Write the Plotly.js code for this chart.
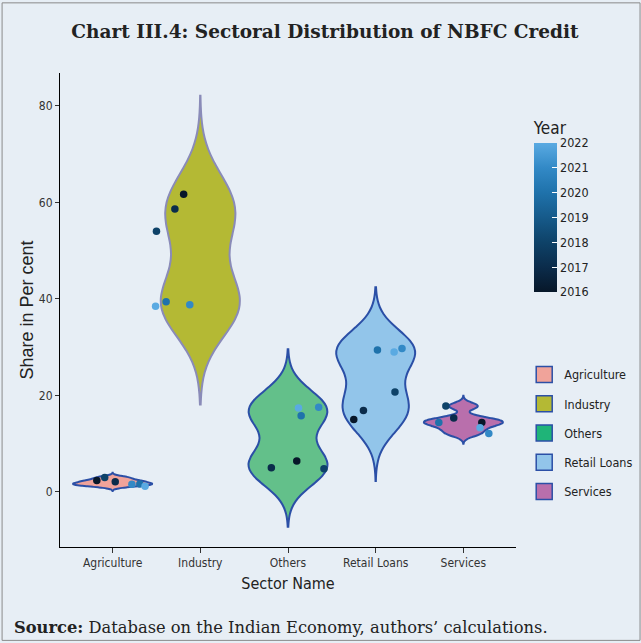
<!DOCTYPE html>
<html>
<head>
<meta charset="utf-8">
<script src="https://cdn.plot.ly/plotly-3.0.1.min.js"></script>
<style>
html,body{margin:0;padding:0;background:#E7EEF5;}
#chart{width:641px;height:643px;}
</style>
</head>
<body>
<div id="chart"></div>
<script>
// ---- Data ----
const sectors = ['Agriculture', 'Industry', 'Others', 'Retail Loans', 'Services'];
const years = [2016, 2017, 2018, 2020, 2021, 2022];
const agriculture = [2.4, 2.1, 3.0, 1.65, 1.6, 1.2];
const industry = [61.7, 58.6, 54.0, 39.4, 38.8, 38.5];
const others = [6.4, 5.0, 4.8, 15.8, 17.55, 17.4];
const retailLoans = [15.0, 16.9, 20.7, 29.4, 29.7, 29.0];
const services = [14.4, 15.3, 17.8, 14.4, 12.1, 13.3];
// horizontal jitter of the points (category units)
const jitterAgriculture = [-0.18, 0.03, -0.09, 0.31, 0.22, 0.37];
const jitterIndustry = [-0.19, -0.29, -0.50, -0.39, -0.12, -0.51];
const jitterOthers = [0.10, -0.19, 0.41, 0.15, 0.35, 0.12];
const jitterRetail = [-0.25, -0.14, 0.22, 0.02, 0.30, 0.21];
const jitterServices = [0.21, -0.11, -0.20, -0.28, 0.29, 0.19];
const yTicks = [0, 20, 40, 60, 80];
const yearTicks = [2016, 2017, 2018, 2019, 2020, 2021, 2022];

const seriesValues = [agriculture, industry, others, retailLoans, services];
const seriesJitter = [jitterAgriculture, jitterIndustry, jitterOthers, jitterRetail, jitterServices];

// ---- Styles ----
const fillColors = ['#F0A39A', '#B4B934', '#63C08A', '#92C5EA', '#B96FAC'];
const legendColors = ['#F0A39A', '#B4B934', '#1FB478', '#92C5EA', '#B96FAC'];
const lineColors = ['#2B4FA6', '#8A8BB8', '#2B4FA6', '#2B4FA6', '#2B4FA6'];
const yearScale = [
  [0, '#071729'], [0.167, '#0b2c4b'], [0.333, '#0e4268'], [0.5, '#165a8a'],
  [0.667, '#1f72ab'], [0.833, '#3289c6'], [1, '#5AAAE2']
];
const narrow = 'DejaVu Sans Condensed, Liberation Sans Narrow, Arial Narrow, sans-serif';

// bandwidth like R's bw.nrd0 (ggplot default)
function quantile7(sorted, p) {
  const h = (sorted.length - 1) * p;
  const lo = Math.floor(h);
  return sorted[lo] + (h - lo) * ((sorted[lo + 1] !== undefined ? sorted[lo + 1] : sorted[lo]) - sorted[lo]);
}
function nrd0(v) {
  const n = v.length;
  const mean = v.reduce((a, b) => a + b, 0) / n;
  const sd = Math.sqrt(v.reduce((a, b) => a + (b - mean) * (b - mean), 0) / (n - 1));
  const s = v.slice().sort((a, b) => a - b);
  const iqr = quantile7(s, 0.75) - quantile7(s, 0.25);
  let lo = Math.min(sd, iqr / 1.34);
  if (!lo) lo = sd || Math.abs(s[0]) || 1;
  return 0.9 * lo * Math.pow(n, -0.2);
}

const traces = [];
sectors.forEach((name, i) => {
  const v = seriesValues[i];
  const bw = nrd0(v);
  traces.push({
    type: 'violin',
    x0: i,
    y: v,
    name: name,
    width: 0.9,
    bandwidth: bw,
    spanmode: 'manual',
    span: [Math.min(...v) - 3 * bw, Math.max(...v) + 3 * bw],
    scalemode: 'width',
    points: false,
    box: {visible: false},
    meanline: {visible: false},
    fillcolor: fillColors[i],
    line: {color: lineColors[i], width: 2},
    opacity: 1,
    showlegend: false,
    hoverinfo: 'skip'
  });
});
sectors.forEach((name, i) => {
  const v = seriesValues[i];
  traces.push({
    type: 'scatter',
    mode: 'markers',
    x: v.map((_, j) => i + seriesJitter[i][j]),
    y: v,
    showlegend: false,
    hoverinfo: 'skip',
    marker: {
      size: 7.5,
      color: years,
      cmin: 2016,
      cmax: 2022,
      colorscale: yearScale,
      showscale: i === 0,
      colorbar: {
        title: {text: 'Year', side: 'top', font: {family: narrow, size: 17, color: '#222'}},
        x: 1.039, xanchor: 'left',
        y: 0.905, yanchor: 'top',
        len: 174, lenmode: 'pixels',
        thickness: 23, thicknessmode: 'pixels',
        outlinewidth: 0,
        tickvals: yearTicks,
        ticks: 'inside', ticklen: 5, tickcolor: '#ffffff', tickwidth: 1,
        tickfont: {family: narrow, size: 12.5, color: '#222'},
        bgcolor: 'rgba(0,0,0,0)',
        xpad: 0, ypad: 0
      }
    }
  });
});
// legend keys
sectors.forEach((name, i) => {
  traces.push({
    type: 'scatter',
    mode: 'markers',
    x: [null], y: [null],
    name: name,
    legendgroup: name,
    showlegend: true,
    marker: {symbol: 'square', size: 19, color: legendColors[i], line: {color: '#2B4FA6', width: 1.5}}
  });
});

const layout = {
  width: 641,
  height: 643,
  paper_bgcolor: '#E7EEF5',
  plot_bgcolor: '#E7EEF5',
  margin: {l: 60, r: 125, t: 73, b: 96, autoexpand: false},
  title: {
    text: '<b>Chart III.4: Sectoral Distribution of NBFC Credit</b>',
    font: {family: 'DejaVu Serif, serif', size: 18.5, color: '#222'},
    x: 0.507, xref: 'container', xanchor: 'center',
    y: 0.951, yref: 'container', yanchor: 'middle'
  },
  showlegend: true,
  legend: {
    x: 1.018, xanchor: 'left',
    y: 0.395, yanchor: 'top',
    bgcolor: 'rgba(0,0,0,0)',
    font: {family: narrow, size: 12.5, color: '#222'},
    tracegroupgap: 10,
    itemsizing: 'trace',
    itemwidth: 30,
    traceorder: 'grouped'
  },
  violinmode: 'overlay',
  xaxis: {
    range: [-0.6, 4.6],
    tickvals: sectors.map((_, i) => i),
    ticktext: sectors,
    showgrid: false, zeroline: false,
    showline: true, linecolor: '#000', linewidth: 1,
    ticks: 'outside', ticklen: 5, tickcolor: '#333',
    tickfont: {family: narrow, size: 12, color: '#333'},
    title: {text: 'Sector Name', font: {family: narrow, size: 16, color: '#222'}, standoff: 8}
  },
  yaxis: {
    range: [-11.4, 86.8],
    tickvals: yTicks,
    showgrid: false, zeroline: false,
    showline: true, linecolor: '#000', linewidth: 1,
    ticks: 'outside', ticklen: 4, tickcolor: '#333',
    tickfont: {family: narrow, size: 12, color: '#333'},
    title: {text: 'Share in Per cent', font: {family: 'Liberation Sans, Arial, sans-serif', size: 18, color: '#222'}, standoff: 0}
  },
  annotations: [{
    text: '<b>Source:</b> Database on the Indian Economy, authors’ calculations.',
    xref: 'paper', yref: 'paper',
    x: -0.105, xanchor: 'left',
    y: -0.169, yanchor: 'middle',
    showarrow: false,
    font: {family: 'DejaVu Serif, serif', size: 16.3, color: '#222'}
  }],
  shapes: [{
    type: 'rect', xref: 'paper', yref: 'paper',
    x0: -0.127, x1: 1.272, y0: -0.197, y1: 1.148,
    line: {color: '#8a8a8a', width: 1}
  }]
};

Plotly.newPlot('chart', traces, layout, {displayModeBar: false, staticPlot: true});
</script>
</body>
</html>
